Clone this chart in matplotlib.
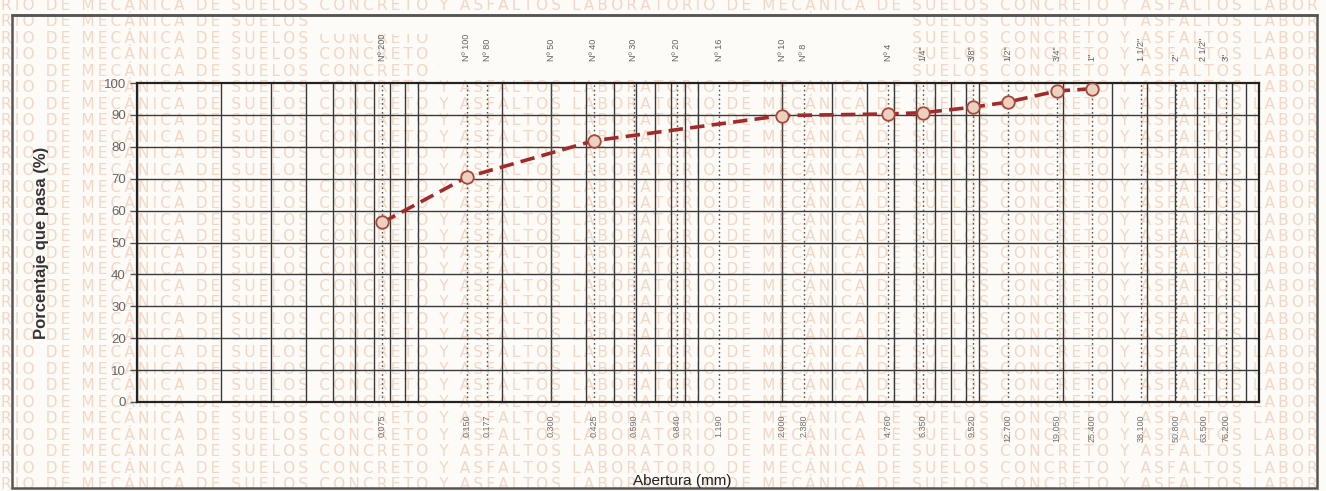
import numpy as np
import matplotlib.pyplot as plt
from matplotlib.patches import Rectangle

# tamices y aberturas (mm)
tamices = ['Nº 200', 'Nº 100', 'Nº 80', 'Nº 50', 'Nº 40', 'Nº 30', 'Nº 20', 'Nº 16',
           'Nº 10', 'Nº 8', 'Nº 4', '1/4"', '3/8"', '1/2"', '3/4"', '1"',
           '1 1/2"', '2"', '2 1/2"', '3"']
aberturas = [0.075, 0.150, 0.177, 0.300, 0.425, 0.590, 0.840, 1.190,
             2.000, 2.380, 4.760, 6.350, 9.520, 12.700, 19.050, 25.400,
             38.100, 50.800, 63.500, 76.200]
etiquetas_ab = ['0.075', '0.150', '0.177', '0.300', '0.425', '0.590', '0.840', '1.190',
                '2.000', '2.380', '4.760', '6.350', '9.520', '12.700', '19.050', '25.400',
                '38.100', '50.800', '63.500', '76.200']

# curva granulometrica
abertura_ensayo = [0.075, 0.150, 0.425, 2.000, 4.760, 6.350, 9.520, 12.700, 19.050, 25.400]
pasa = [56.3, 70.5, 81.9, 89.8, 90.3, 90.7, 92.4, 94.0, 97.5, 98.2]

marca_agua = ('RIO DE MECÁNICA DE SUELOS CONCRETO Y ASFALTOS '
              'LABORATORIO DE MECÁNICA DE SUELOS CONCRETO Y ASFALTOS LABOR')

W, H = 1326, 491
fondo = '#fdfbf7'
fig = plt.figure(figsize=(W / 100, H / 100), dpi=100)
fig.patch.set_facecolor(fondo)
plt.rcParams['font.family'] = ['Liberation Sans', 'DejaVu Sans']

""" marca de agua de fondo (letras espaciadas) """
espaciada = '\u2009'.join(marca_agua)
for i in range(30):
    yy = 1 - (5 + i * 16.55) / H
    fig.text(1 / W, yy, espaciada, fontsize=11.1, color='#f3d7c4',
             family=['DejaVu Sans'], va='center', ha='left', zorder=0)
fig.patches.append(Rectangle((440 / W, 1 - 80 / H), 460 / W, 66 / H,
                             transform=fig.transFigure, facecolor=fondo,
                             edgecolor='none', zorder=0.5))
fig.patches.append(Rectangle((320 / W, 1 - 34 / H), 130 / W, 20 / H,
                             transform=fig.transFigure, facecolor=fondo,
                             edgecolor='none', zorder=0.5))

""" marco exterior """
fig.patches.append(Rectangle((12 / W, 1 - 488 / H), 1305 / W, 473 / H,
                             transform=fig.transFigure, facecolor='none',
                             edgecolor='#555555', linewidth=1.8, zorder=1))

ax = fig.add_axes([137 / W, 1 - 402 / H, 1122 / W, 319 / H])
ax.set_facecolor('none')
ax.set_zorder(2)
ax.set_xscale('log')
ax.set_xlim(0.01, 100)
ax.set_ylim(0, 100)

# cuadricula logaritmica
for dec in [0.01, 0.1, 1, 10]:
    for k in range(1, 10):
        ax.axvline(dec * k, color='#3a3a3a', linewidth=1.0, zorder=1)
for v in range(10, 100, 10):
    ax.axhline(v, color='#3a3a3a', linewidth=1.0, zorder=1)
for a in aberturas:
    ax.axvline(a, color='#555555', linewidth=1.0, linestyle=(0, (1.2, 2)), zorder=1)

ax.plot(abertura_ensayo, pasa, color='#a32a2a', linewidth=2.6, linestyle=(0, (4, 2)),
        marker='o', markersize=9, markerfacecolor='#ecd0c0',
        markeredgecolor='#a8493a', markeredgewidth=1.3, zorder=3)

for s in ax.spines.values():
    s.set_linewidth(1.6)
    s.set_color('#222222')

ax.set_xticks(aberturas)
ax.set_xticklabels(etiquetas_ab, rotation=90, fontsize=6.5, color='#707070')
ax.xaxis.set_minor_locator(plt.NullLocator())
ax.tick_params(axis='x', length=0, pad=9)

ax.set_yticks(range(0, 101, 10))
ax.tick_params(axis='y', length=5, width=1, color='#555555', labelsize=9.5,
               labelcolor='#666666', pad=3)

top = ax.secondary_xaxis('top')
top.set_xticks(aberturas)
top.set_xticklabels(tamices, rotation=90, fontsize=6.5, color='#606060')
top.xaxis.set_minor_locator(plt.NullLocator())
top.tick_params(axis='x', length=0, pad=16)
top.spines['top'].set_visible(False)

ax.set_ylabel('Porcentaje que pasa (%)', fontsize=12, fontweight='bold', color='#333333')
ax.yaxis.set_label_coords(-0.078, 0.5)
ax.set_xlabel('Abertura (mm)', fontsize=11, color='#222222')
ax.xaxis.set_label_coords(0.486, -0.225)

""" linea superior del marco del titulo """
fig.add_artist(plt.Line2D([12 / W, 1317 / W], [1 - 15 / H, 1 - 15 / H],
                          transform=fig.transFigure, color='#555555', linewidth=1.8))

fig.savefig('out.png', dpi=100, facecolor=fig.get_facecolor())
